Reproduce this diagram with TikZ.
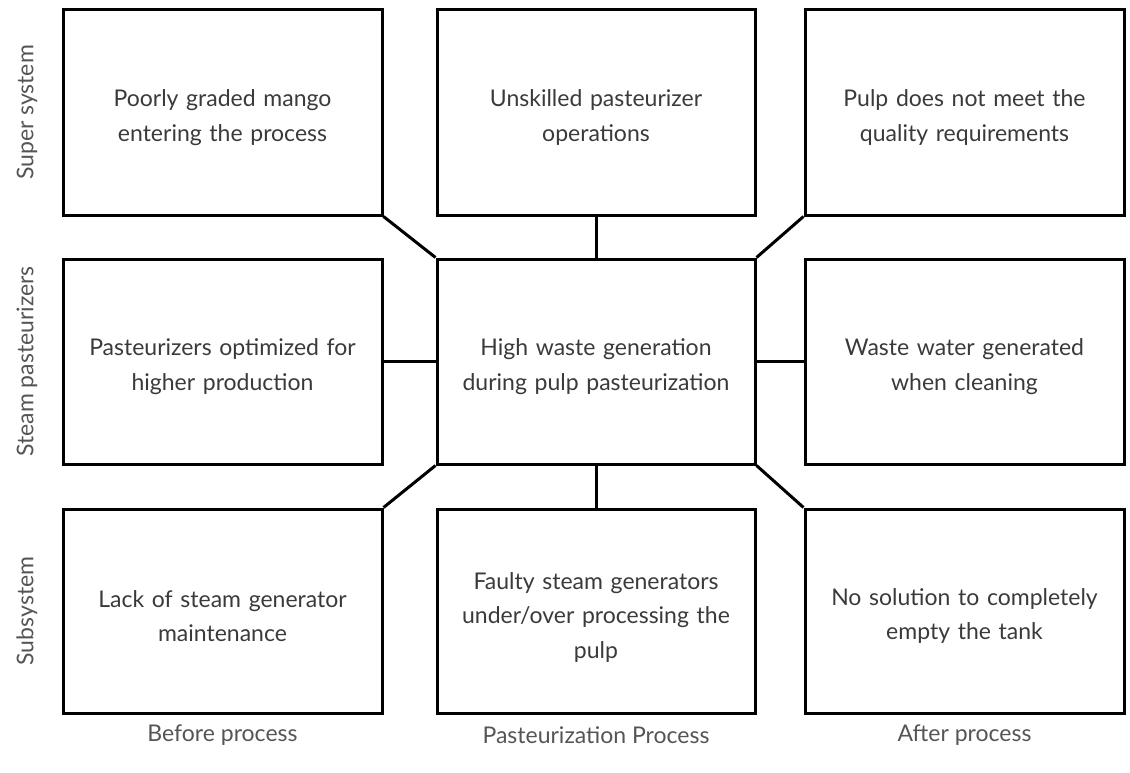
\documentclass[tikz,border=0pt]{standalone}
\usepackage{fontspec}
\setmainfont{Lato}
\definecolor{txt}{HTML}{3A3A3A}
\definecolor{lbl}{HTML}{555555}
\begin{document}
\begin{tikzpicture}[x=1pt,y=-1pt,
  cell/.style={draw=black,line width=3pt,minimum width=319pt,minimum height=205pt,inner sep=0pt},
  celltext/.style={text=txt,font=\fontsize{23}{34.5}\selectfont,align=center,text width=310pt,inner sep=0pt},
  link/.style={line width=3pt,black},
  rowlbl/.style={text=lbl,font=\fontsize{23}{26}\selectfont,rotate=90,anchor=center},
  collbl/.style={text=lbl,font=\fontsize{23}{26}\selectfont,anchor=center}]
\useasboundingbox (0,0) rectangle (1130,773);
% columns: 63-382, 437-755, 805-1124 ; rows: 10-215, 259-464, 509-713
\node[cell,minimum width=319pt] (tl) at (222.5,112.5) {};
\node[cell,minimum width=318pt] (tm) at (596,112.5) {};
\node[cell,minimum width=319pt] (tr) at (964.5,112.5) {};
\node[cell,minimum width=319pt] (ml) at (222.5,361.5) {};
\node[cell,minimum width=318pt] (c) at (596,361.5) {};
\node[cell,minimum width=319pt] (mr) at (964.5,361.5) {};
\node[cell,minimum width=319pt,minimum height=204pt] (bl) at (222.5,611) {};
\node[cell,minimum width=318pt,minimum height=204pt] (bm) at (596,611) {};
\node[cell,minimum width=319pt,minimum height=204pt] (br) at (964.5,611) {};
\node[celltext] (tlt) at ([yshift=-5pt]tl.center) {Poorly graded mango\\entering the process};
\node[celltext] (tmt) at ([yshift=-5pt]tm.center) {Unskilled pasteurizer\\operations};
\node[celltext] (trt) at ([yshift=-5pt]tr.center) {Pulp does not meet the\\quality requirements};
\node[celltext] (mlt) at ([yshift=-5pt]ml.center) {Pasteurizers optimized for\\higher production};
\node[celltext] (ct) at ([yshift=-5pt]c.center) {High waste generation\\during pulp pasteurization};
\node[celltext] (mrt) at ([yshift=-5pt]mr.center) {Waste water generated\\when cleaning};
\node[celltext] (blt) at ([yshift=-5pt]bl.center) {Lack of steam generator\\maintenance};
\node[celltext] (bmt) at ([yshift=-6pt]bm.center) {Faulty steam generators\\under/over processing the\\pulp};
\node[celltext] (brt) at ([yshift=-5pt]br.center) {No solution to completely\\empty the tank};
\draw[link] (tl.south east) -- (c.north west);
\draw[link] (tm.south) -- (c.north);
\draw[link] (tr.south west) -- (c.north east);
\draw[link] (ml.east) -- (c.west);
\draw[link] (mr.west) -- (c.east);
\draw[link] (bl.north east) -- (c.south west);
\draw[link] (bm.north) -- (c.south);
\draw[link] (br.north west) -- (c.south east);
\node[rowlbl] (r1) at (27,112.5) {Super system};
\node[rowlbl] (r2) at (27,361.5) {Steam pasteurizers};
\node[rowlbl] (r3) at (27,611) {Subsystem};
\node[collbl] (c1) at (222.5,735) {Before process};
\node[collbl] (c2) at (596,735) {Pasteurization Process};
\node[collbl] (c3) at (964.5,735) {After process};
\end{tikzpicture}
\end{document}
